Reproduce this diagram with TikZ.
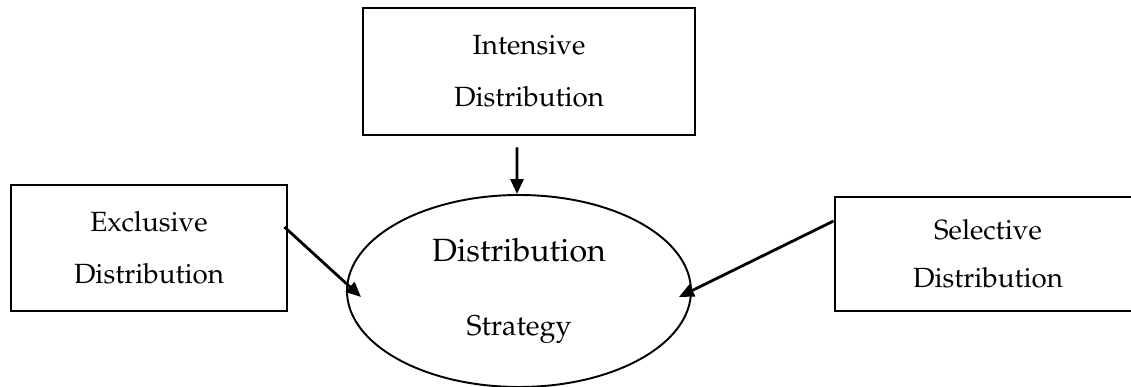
\documentclass[tikz,border=0pt]{standalone}
\usepackage[T1]{fontenc}
\usepackage{mathpazo}
\usepackage{tikz}
\usetikzlibrary{positioning, shapes, arrows.meta}

\tikzset{
  kind/.style={draw, line width=1.6pt, align=center, inner sep=0pt,
    font=\fontsize{15.8}{29.5}\selectfont},
  centre/.style={draw, ellipse, line width=1.1pt, align=center, inner sep=0pt,
    minimum width=6.88cm, minimum height=3.84cm, font=\fontsize{18.3}{42}\selectfont},
  push/.style={-{Triangle[length=0.3cm,width=0.26cm]}, line width=1.6pt}
}

\begin{document}
\begin{tikzpicture}
\useasboundingbox (0,0) rectangle (22.62,7.74);
% the strategy in the middle
\node[centre] (strategy) at (10.38,1.92) {Distribution\\{\fontsize{16.3}{42}\selectfont Strategy}};

% the three kinds of distribution
\node[kind, minimum width=6.64cm, minimum height=2.54cm] (intensive) at (10.58,6.31) {Intensive\\Distribution};
\node[kind, minimum width=5.52cm, minimum height=2.52cm] (exclusive) at (2.98,2.78) {Exclusive\\Distribution};
\node[kind, minimum width=6.12cm, minimum height=2.28cm, font=\fontsize{15.8}{27.5}\selectfont] (selective) at (19.76,2.66) {Selective\\Distribution};

% arrows into the ellipse
\draw[push] ([xshift=-0.24cm,yshift=-0.22cm]intensive.south) -- ([xshift=-0.04cm]strategy.north);
\draw[push] ([xshift=-0.08cm,yshift=0.42cm]exclusive.east) -- ([xshift=0.3cm,yshift=-0.12cm]strategy.west);
\draw[push] ([yshift=0.66cm]selective.west) -- ([xshift=-0.26cm,yshift=-0.12cm]strategy.east);
\end{tikzpicture}
\end{document}
